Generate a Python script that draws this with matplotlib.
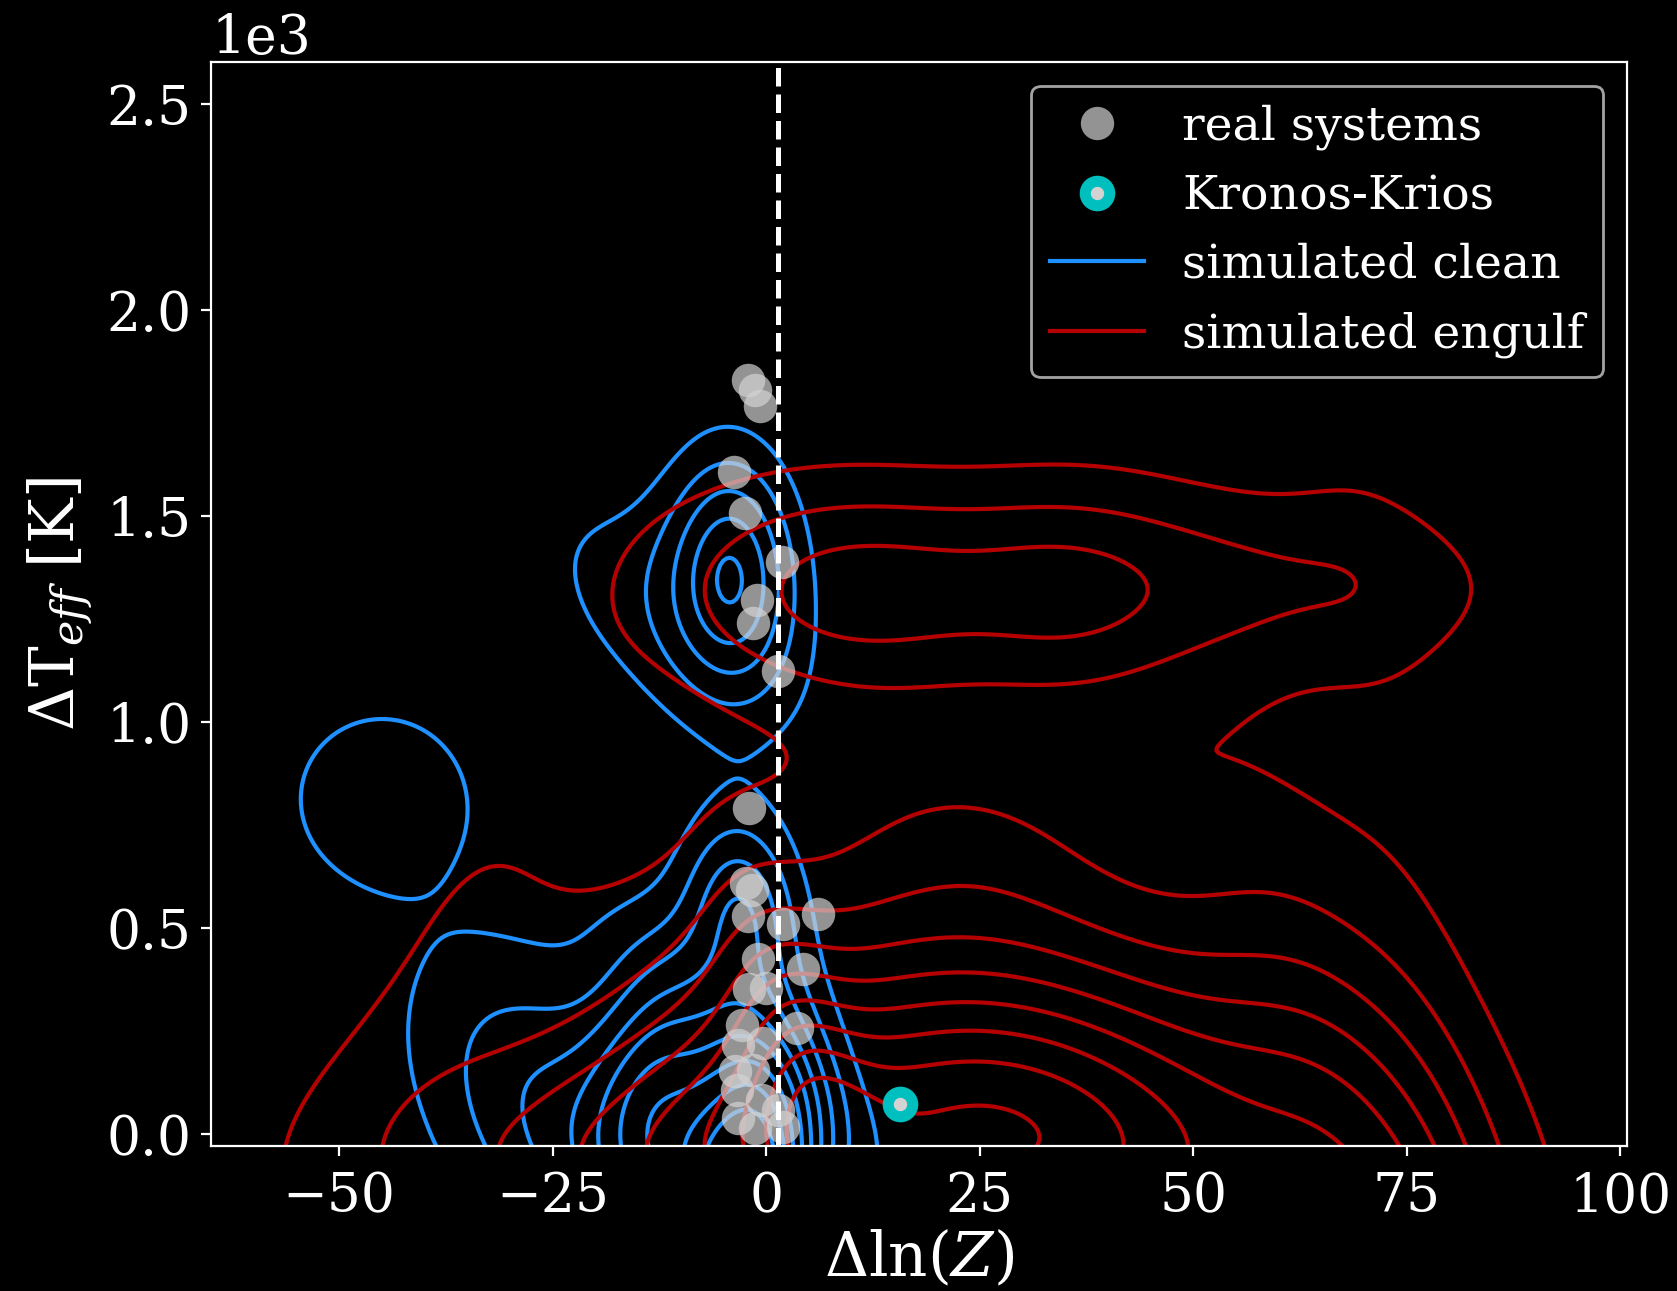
import numpy as np
import matplotlib
matplotlib.use("Agg")
import matplotlib.pyplot as plt
from matplotlib.lines import Line2D
from matplotlib.ticker import MultipleLocator

# --- real systems and Kronos-Krios ---
real_x = [-2.07, -1.29, -0.70, -3.74, -2.46, 1.83, -1.01, -1.56, 1.44,
          -1.95, -2.34, -1.68, -2.15, 1.95, 6.12, -0.90, 4.37, -1.99, -0.04,
          -2.85, 3.59, -3.24, -0.31, -1.48, -3.63, -3.43, 1.44, -3.24, -1.29,
          2.03, -0.50]
real_y = [1831, 1807, 1768, 1608, 1507, 1390, 1297, 1242, 1125,
          792, 610, 593, 529, 511, 534, 425, 401, 352, 355,
          266, 258, 217, 223, 157, 155, 108, 59, 39, 15,
          19, 84]
kk_x = [15.7]
kk_y = [74]
split_x = 1.35

# --- simulated populations: density as a sum of gaussian components ---
# (component parameters matched to the contour lines of the picture)
blue_amp = [4.366, 1.506, 1.844, 9.995, 3.358, 4.147, 3.27, 0.8321]
blue_cx = [-3.799, -11.66, -45.14, -2.056, -3.102, -13.11, -22.96, 2.047]
blue_cy = [1377, 1260, 820.7, -145.7, 557.3, 97.12, -0.5846, 144.5]
blue_sx = [5.146, 11.75, 8.21, 5.783, 4.565, 5.199, 12.29, 15.9]
blue_sy = [195.8, 231.1, 166, 295.4, 156.2, 244.4, 305.4, 304.1]
blue_rho = [-0.05925, -0.5258, 0.005741, 0.1221, -0.06873, 0.1184, -0.5106, -0.9]

red_amp = [3.344, 1.411, 1.764, 2.476, 7.886, 8.881, 0.3964, 3.578, 1.177, 0.7612]
red_cx = [10.28, 36.41, 58.34, 8.2, 31.16, 98.14, 72.9, -7.752, 24.07, -37.24]
red_cy = [1315, 1287, 1343, -129.8, 25.37, -2076, 1105, -89.5, 747.1, 461.4]
red_sx = [16.48, 9.289, 21.09, 7.546, 27.36, 20.96, 14.5, 27.21, 13.57, 13.33]
red_sy = [195.3, 211.4, 161, 435.4, 359.1, 1348, 1967, 218.5, 182.8, 594]
red_rho = [-0.04216, -0.08857, -0.07681, -0.7381, -0.2832, -0.8822, -0.9, -0.003164, -0.1407, 0.6733]

levels = [1, 2, 3, 4, 5, 6, 7, 8, 9]

CLEAN = "dodgerblue"
ENGULF = "#b40000"


def density(X, Y, amp, cx, cy, sx, sy, rho):
    f = np.zeros_like(X)
    for a, x0, y0, wx, wy, r in zip(amp, cx, cy, sx, sy, rho):
        u = (X - x0) / wx
        v = (Y - y0) / wy
        f += a * np.exp(-0.5 * (u * u - 2 * r * u * v + v * v) / (1 - r * r))
    return f


plt.style.use("dark_background")
plt.rcParams["font.family"] = "DejaVu Serif"
plt.rcParams["mathtext.fontset"] = "dejavuserif"

fig = plt.figure(figsize=(8.385, 6.455), dpi=200)
ax = fig.add_axes([0.1258, 0.1123, 0.8444, 0.8397])

GX, GY = np.meshgrid(np.linspace(-66, 102, 450), np.linspace(-40, 2620, 450))
f_clean = density(GX, GY, blue_amp, blue_cx, blue_cy, blue_sx, blue_sy, blue_rho)
f_engulf = density(GX, GY, red_amp, red_cx, red_cy, red_sx, red_sy, red_rho)
ax.contour(GX, GY, f_clean, levels=levels, colors=CLEAN, linewidths=1.5)
ax.contour(GX, GY, f_engulf, levels=levels, colors=ENGULF, linewidths=1.5)

ax.scatter(real_x, real_y, s=145, color="lightgray", alpha=0.7, linewidths=0, zorder=3)
ax.axvline(split_x, color="white", ls="--", lw=1.8, zorder=4)
ax.scatter(kk_x, kk_y, s=78, facecolor="lightgray", edgecolor="c", linewidths=4, zorder=5)

ax.set_xlim(-65, 100.8)
ax.set_ylim(-28, 2602)
ax.xaxis.set_major_locator(MultipleLocator(25))
ax.ticklabel_format(axis="y", style="sci", scilimits=(0, 0))
ax.tick_params(labelsize=19.3)
ax.tick_params(axis="x", pad=5.5)
ax.yaxis.get_offset_text().set_fontsize(19.3)
ax.set_xlabel(r"$\Delta \ln(Z)$", fontsize=22, labelpad=2)
ax.set_ylabel(r"$\Delta$T$_{eff}$ [K]", fontsize=22)

handles = [Line2D([], [], ls="", marker="o", ms=12, color="lightgray", alpha=0.7, mew=0),
           Line2D([], [], ls="", marker="o", ms=8.8, mfc="lightgray", mec="c", mew=4),
           Line2D([], [], color=CLEAN, lw=1.5),
           Line2D([], [], color=ENGULF, lw=1.5)]
ax.legend(handles, ["real systems", "Kronos-Krios", "simulated clean", "simulated engulf"],
          loc="upper right", fontsize=17)

fig.savefig("out.png", dpi=200)
